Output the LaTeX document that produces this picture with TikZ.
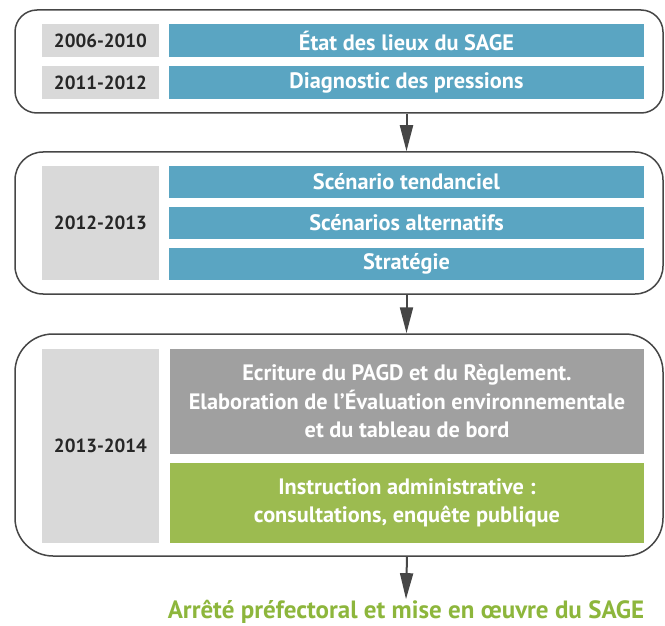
\documentclass[tikz,border=0pt]{standalone}
\usepackage{fontspec}
\setmainfont{PT Sans}
\usetikzlibrary{arrows.meta}
\definecolor{sageblue}{RGB}{90,165,194}
\definecolor{sagegreen}{RGB}{156,187,80}
\definecolor{sagegrey}{RGB}{160,160,160}
\definecolor{yeargrey}{RGB}{217,217,217}
\definecolor{framegrey}{RGB}{70,70,70}
\definecolor{textgreen}{RGB}{141,182,60}
\tikzset{
  phasebox/.style={draw=framegrey, line width=1.5pt, rounded corners=#1, inner sep=0pt},
  yearbox/.style={fill=yeargrey, inner sep=0pt, minimum width=117pt,
    font=\fontsize{19}{21}\selectfont\bfseries, text=black!85},
  stepbar/.style={fill=#1, inner sep=0pt, minimum width=475pt, text=white,
    align=center, font=\fontsize{22.3}{28.5}\selectfont\bfseries},
  flow/.style={draw=framegrey, line width=2pt,
    -{Triangle[length=26pt, width=13pt]}},
}

\begin{document}
\begin{tikzpicture}[x=1pt, y=-1pt]
\useasboundingbox (0,0) rectangle (665,626);

% phases
\node[phasebox=22pt, minimum width=648pt, minimum height=103pt] (box1) at (339,61.5) {};
\node[phasebox=28pt, minimum width=648pt, minimum height=142pt] (box2) at (339,223) {};
\node[phasebox=38pt, minimum width=648pt, minimum height=222pt] (box3) at (339,445) {};

% phase 1
\node[yearbox, minimum height=33pt] (yr1) at (100.5,40.5) {2006-2010};
\node[yearbox, minimum height=33pt] (yr2) at (100.5,82.5) {2011-2012};
\node[stepbar=sageblue, minimum height=33pt] (etat) at (406.5,40.5) {État des lieux du SAGE};
\node[stepbar=sageblue, minimum height=33pt] (diag) at (406.5,82.5) {Diagnostic des pressions};

% phase 2
\node[yearbox, minimum height=114pt] (yr3) at (100.5,223) {2012-2013};
\node[stepbar=sageblue, minimum height=32pt] (tend) at (406.5,182) {Scénario tendanciel};
\node[stepbar=sageblue, minimum height=32pt] (alt) at (406.5,223) {Scénarios alternatifs};
\node[stepbar=sageblue, minimum height=32pt] (strat) at (406.5,264) {Stratégie};

% phase 3
\node[yearbox, minimum height=194pt] (yr4) at (100.5,446) {2013-2014};
\node[stepbar=sagegrey, minimum width=474pt, minimum height=105pt] (pagd) at (407,401.5)
  {Ecriture du PAGD et du Règlement.\\Elaboration de l’Évaluation environnementale\\et du tableau de bord};
\node[stepbar=sagegreen, minimum width=474pt, minimum height=80pt] (instr) at (407,503)
  {Instruction administrative :\\consultations, enquête publique};

\node[inner sep=1pt, text=textgreen, font=\fontsize{25}{28}\selectfont\bfseries] (final) at (406,612)
  {Arrêté préfectoral et mise en œuvre du SAGE};

% arrows
\draw[flow] (box1.south -| diag) -- (box2.north -| diag);
\draw[flow] (box2.south -| strat) -- (box3.north -| strat);
\draw[flow] (box3.south -| instr) -- (final.north);
\end{tikzpicture}
\end{document}
